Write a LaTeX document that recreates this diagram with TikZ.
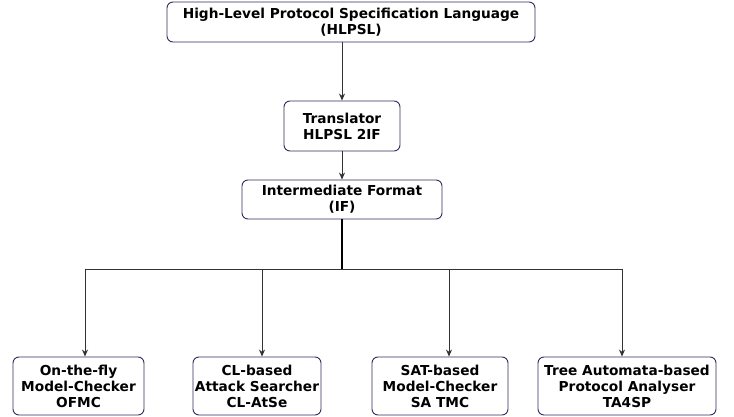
\documentclass[tikz,border=0pt]{standalone}
\usepackage{fontspec}
\setsansfont{DejaVu Sans}
\usepackage{tikz}
\usetikzlibrary{arrows.meta,positioning}

\definecolor{boxline}{HTML}{2E2E5C}
\definecolor{wire}{HTML}{333333}

\begin{document}
\begin{tikzpicture}[->,>={Stealth[length=7pt,width=6pt]},x=1pt,y=1pt,node distance=104pt,
        block/.style={draw=boxline,rounded corners=6pt,align=center,
          inner sep=1pt,line width=0.9pt,
          font=\sffamily\bfseries\fontsize{13.7}{16}\selectfont},
        link/.style={draw=wire,line width=1pt}]

  \useasboundingbox (0,0) rectangle (734,-417);

  \node[block,minimum width=368pt,minimum height=40pt] (hlpsl) at (351,-22)
    {High-Level Protocol Specification Language\\(HLPSL)};
  \node[block,minimum width=116pt,minimum height=50pt] (trans)
    [below of=hlpsl,xshift=-9pt] {Translator\\HLPSL 2IF};
  \node[block,minimum width=200pt,minimum height=39pt] (if)
    [below of=trans,node distance=73.5pt] {Intermediate Format\\(IF)};
  \coordinate[below of=if,node distance=69.5pt] (split);

  % back-end tools
  \node[block,minimum width=131pt,minimum height=58pt] (ofmc) at (78.5,-386)
    {On-the-fly\\Model-Checker\\OFMC};
  \node[block,minimum width=128pt,minimum height=58pt] (atse)
    [right of=ofmc,node distance=178.5pt] {CL-based\\Attack Searcher\\CL-AtSe};
  \node[block,minimum width=136pt,minimum height=58pt] (satmc)
    [right of=atse,node distance=183pt] {SAT-based\\Model-Checker\\SA TMC};
  \node[block,minimum width=178pt,minimum height=58pt] (ta4sp)
    [right of=satmc,node distance=187pt] {Tree Automata-based\\Protocol Analyser\\TA4SP};

  \draw[link] (trans.north |- hlpsl.south) -- (trans);
  \draw[link] (trans) -- (if);
  \draw[-,line width=1.4pt,draw=black] (if) -- (split);
  \draw[link,-] ([xshift=6.5pt]ofmc.north |- split) -- ([xshift=-5pt]ta4sp.north |- split);

  \draw[link] ([xshift=6.5pt]ofmc.north |- split) -- ([xshift=6.5pt]ofmc.north);
  \draw[link] ([xshift=5pt]atse.north |- split) -- ([xshift=5pt]atse.north);
  \draw[link] ([xshift=9pt]satmc.north |- split) -- ([xshift=9pt]satmc.north);
  \draw[link] ([xshift=-5pt]ta4sp.north |- split) -- ([xshift=-5pt]ta4sp.north);

\end{tikzpicture}
\end{document}
